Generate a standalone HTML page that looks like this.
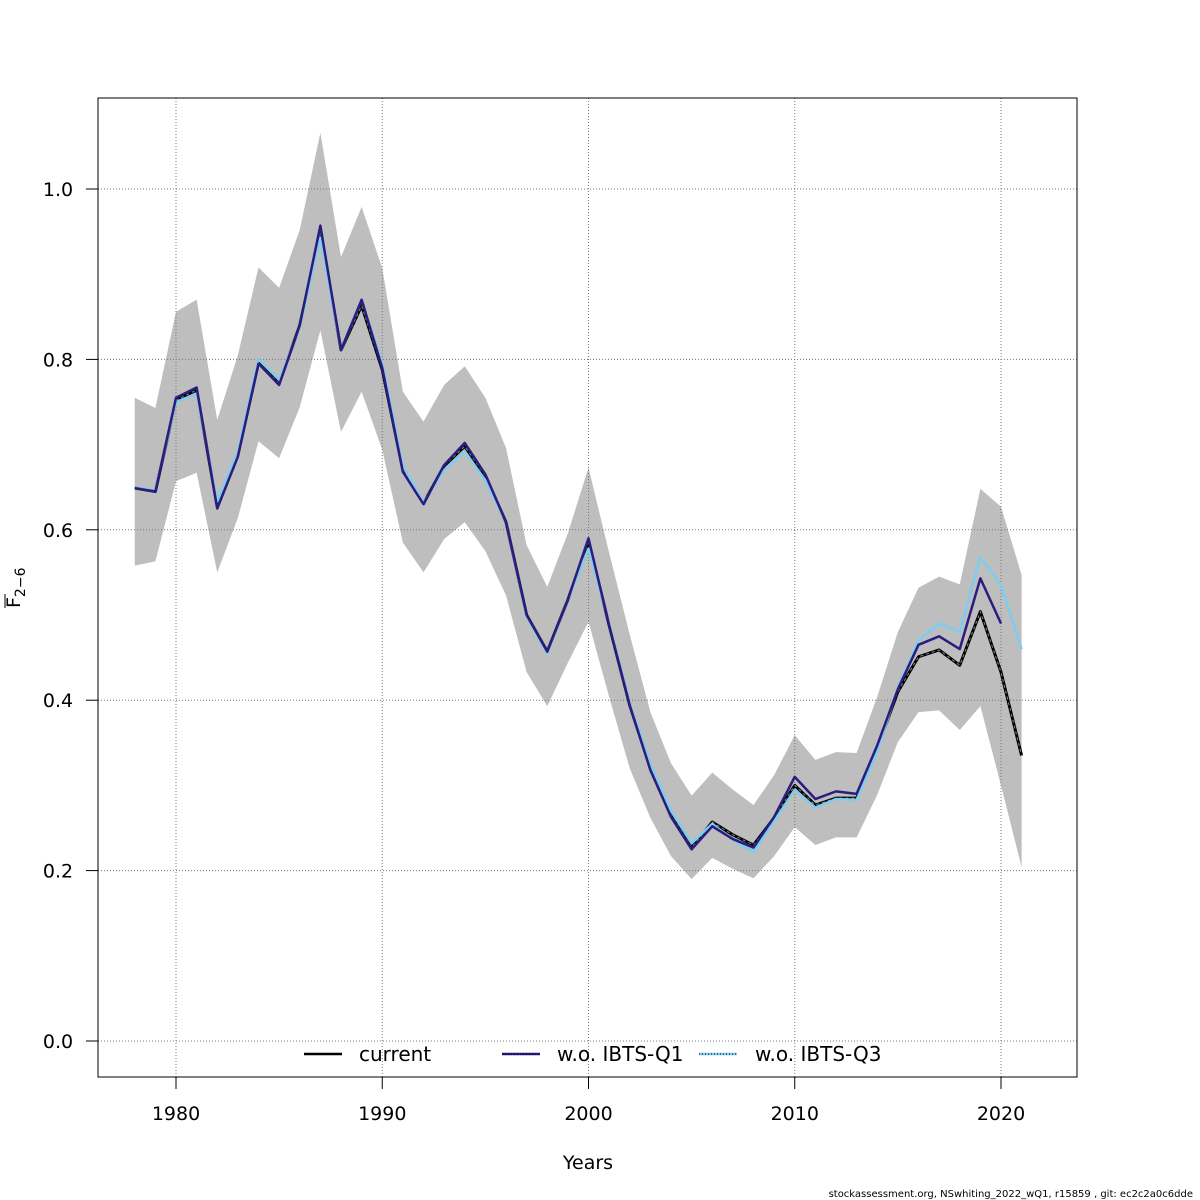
<!DOCTYPE html>
<html><head><meta charset="utf-8"><style>
html,body{margin:0;padding:0;background:#fff;}
svg{display:block;font-family:"DejaVu Sans","Liberation Sans",sans-serif;}
</style></head><body>
<svg id="chart" width="1200" height="1200" viewBox="0 0 1200 1200"></svg>
<script>
const years=[];for(let y=1978;y<=2021;y++)years.push(y);
const current=[0.649,0.645,0.752,0.764,0.627,0.688,0.796,0.772,0.840,0.950,0.811,0.863,0.788,0.670,0.631,0.675,0.698,0.663,0.609,0.500,0.457,0.518,0.586,0.488,0.394,0.320,0.265,0.227,0.257,0.242,0.230,0.262,0.300,0.277,0.285,0.285,0.344,0.410,0.451,0.459,0.441,0.504,0.433,0.335];
const woQ1=[0.649,0.645,0.755,0.767,0.625,0.686,0.795,0.770,0.840,0.957,0.811,0.870,0.790,0.668,0.630,0.676,0.702,0.665,0.609,0.500,0.457,0.518,0.590,0.488,0.394,0.318,0.263,0.225,0.252,0.237,0.227,0.263,0.310,0.284,0.293,0.290,0.347,0.413,0.465,0.475,0.460,0.543,0.490];
const woQ3=[0.649,0.647,0.750,0.760,0.633,0.692,0.800,0.776,0.838,0.943,0.811,0.870,0.795,0.675,0.632,0.670,0.692,0.658,0.609,0.498,0.455,0.518,0.578,0.490,0.396,0.325,0.270,0.232,0.255,0.236,0.222,0.258,0.295,0.274,0.284,0.283,0.340,0.415,0.470,0.490,0.480,0.568,0.535,0.460];
const upper=[0.755,0.743,0.856,0.870,0.729,0.805,0.908,0.884,0.952,1.066,0.920,0.979,0.907,0.762,0.727,0.770,0.792,0.755,0.696,0.582,0.533,0.596,0.673,0.573,0.477,0.386,0.326,0.288,0.315,0.295,0.277,0.312,0.359,0.330,0.339,0.338,0.404,0.480,0.532,0.545,0.536,0.648,0.627,0.547];
const lower=[0.558,0.563,0.657,0.667,0.550,0.614,0.704,0.684,0.744,0.834,0.715,0.762,0.694,0.585,0.550,0.589,0.609,0.575,0.523,0.433,0.393,0.444,0.492,0.404,0.320,0.262,0.217,0.190,0.215,0.202,0.191,0.217,0.251,0.230,0.239,0.239,0.289,0.351,0.386,0.388,0.365,0.393,0.300,0.204];
const xTicks=[1980,1990,2000,2010,2020];
const yTicks=[0.0,0.2,0.4,0.6,0.8,1.0];

const NS="http://www.w3.org/2000/svg";
const svg=document.getElementById('chart');
const X=v=>176+(v-1980)*20.625;
const Y=v=>1041-v*852;
function mk(tag,attrs,parent){const e=document.createElementNS(NS,tag);for(const k in attrs)e.setAttribute(k,attrs[k]);(parent||svg).appendChild(e);return e;}

let d='M'+years.map((y,i)=>X(y)+','+Y(upper[i])).join('L');
for(let i=years.length-1;i>=0;i--)d+='L'+X(years[i])+','+Y(lower[i]);
const band=mk('path',{d:d+'Z',fill:'#bebebe',stroke:'none'});



xTicks.forEach(t=>{const g=mk('line',{x1:X(t),x2:X(t),y1:98,y2:1077,stroke:'#777','stroke-dasharray':'1 2','stroke-width':1});

});
yTicks.forEach(t=>{const g=mk('line',{x1:98,x2:1077,y1:Y(t),y2:Y(t),stroke:'#777','stroke-dasharray':'1 2','stroke-width':1});

});

function line(vals,color,w,name,dash){
  const p=mk('polyline',{points:vals.map((v,i)=>X(years[i])+','+Y(v)).join(' '),fill:'none',stroke:color,'stroke-width':w,'stroke-linejoin':'round'});
  if(dash)p.setAttribute('stroke-dasharray',dash);
  
  
}
line(current,'#000',3,'current-line');
line(current,'#888',1,'current-line-dash','3 3');
line(woQ3,'#7ccdf0',2.5,'wo-ibts-q3-line');
line(woQ1,'#2b1c80',2.5,'wo-ibts-q1-line');

const box=mk('rect',{x:98,y:98,width:979,height:979,fill:'none',stroke:'#000','stroke-width':1});



xTicks.forEach(t=>{
  const l=mk('line',{x1:X(t),x2:X(t),y1:1077,y2:1089,stroke:'#000'});
  
  
  const tx=mk('text',{x:X(t),y:1120,'text-anchor':'middle','font-size':19});
  tx.textContent=t;
  
  
});
yTicks.forEach(t=>{
  const l=mk('line',{x1:86,x2:98,y1:Y(t),y2:Y(t),stroke:'#000'});
  
  
  const tx=mk('text',{x:58,y:Y(t)+7,'text-anchor':'middle','font-size':19});
  tx.textContent=t.toFixed(1);
  
  
});
</script>
<div style="position:absolute;left:0;top:0;width:1200px;height:1200px;pointer-events:none;">
<svg width="1200" height="1200" style="font-family:'DejaVu Sans','Liberation Sans',sans-serif">
  <text x="588" y="1169" text-anchor="middle" font-size="19">Years</text>
  <g transform="translate(20,590) rotate(-90)">
    <line x1="-18" x2="-4" y1="-15" y2="-15" stroke="#000" stroke-width="1"/>
    <text x="-18" y="0" font-size="19">F<tspan font-size="14" dy="5">2−6</tspan></text>
  </g>
  <g>
    <g>
      <line x1="304" x2="342" y1="1054" y2="1054" stroke="#000" stroke-width="2.5"/>
      <text x="359" y="1061" font-size="20">current</text>
    </g>
    <g>
      <line x1="502" x2="540" y1="1054" y2="1054" stroke="#2b1c80" stroke-width="2.5"/>
      <line x1="502" x2="540" y1="1054" y2="1054" stroke="#000" stroke-width="1" stroke-dasharray="1 2"/>
      <text x="557" y="1061" font-size="20">w.o. IBTS-Q1</text>
    </g>
    <g>
      <line x1="699" x2="737" y1="1054" y2="1054" stroke="#7ccdf0" stroke-width="2.5"/>
      <line x1="699" x2="737" y1="1054" y2="1054" stroke="#000" stroke-width="1" stroke-dasharray="1 2"/>
      <text x="755" y="1061" font-size="20">w.o. IBTS-Q3</text>
    </g>
  </g>
  <text x="1193" y="1197" text-anchor="end" font-size="10">stockassessment.org, NSwhiting_2022_wQ1, r15859 , git: ec2c2a0c6dde</text>
</svg>
</div>
</body></html>
